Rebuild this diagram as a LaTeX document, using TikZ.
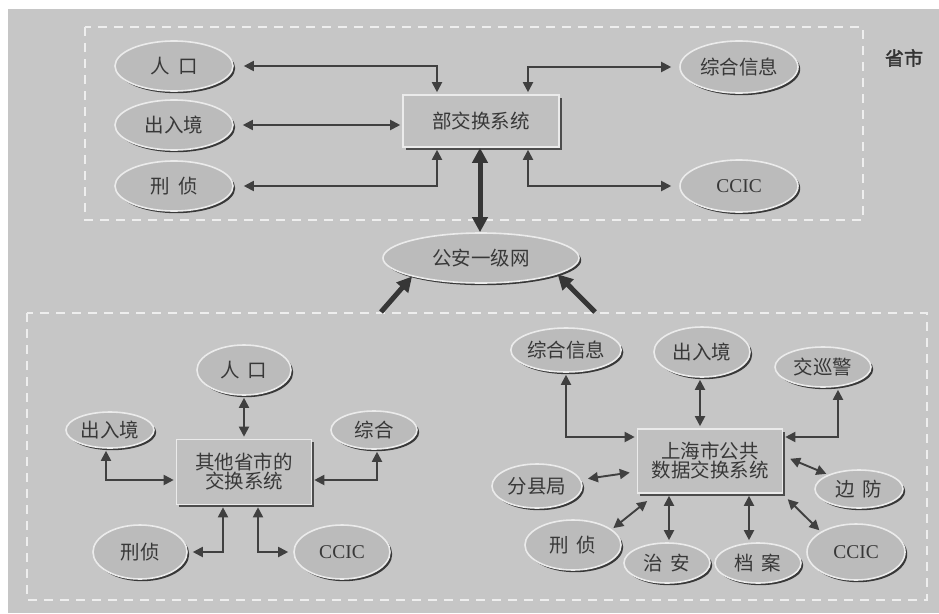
\documentclass[tikz,border=0pt]{standalone}
\usepackage{fontspec}
\setmainfont{Noto Sans CJK SC}
\newfontfamily\cjkb[FakeBold=2]{Noto Sans CJK SC}
\newfontfamily\lat{Liberation Serif}
\usetikzlibrary{shapes.geometric,shadows,arrows.meta}
\definecolor{bgc}{HTML}{C6C6C6}
\definecolor{ellc}{HTML}{BBBBBB}
\definecolor{boxc}{HTML}{C0C0C0}
\definecolor{inkc}{HTML}{383838}
\definecolor{linec}{HTML}{404040}
\definecolor{dashc}{HTML}{EEEEEE}
\tikzset{
  x=1pt,y=-1pt,
  lbl/.style={font=\fontsize{19.5}{22}\selectfont, text=inkc},
  ell/.style={ellipse, lbl, fill=ellc, draw=white!92!black, line width=1.6pt, inner sep=0pt,
    drop shadow={shadow xshift=2.2pt, shadow yshift=-2.2pt, fill=black!78, opacity=1}},
  sbox/.style={rectangle, lbl, fill=boxc, draw=white!92!black, line width=1.6pt, inner sep=2pt, align=center,
    drop shadow={shadow xshift=2.5pt, shadow yshift=-2.5pt, fill=black!70, opacity=1}},
  arr/.style={draw=linec, line width=1.9pt, {Triangle[length=10pt,width=10pt]}-{Triangle[length=10pt,width=10pt]}, shorten >=2pt, shorten <=2pt},
  bigarr/.style={draw=linec!85!black, line width=5pt, -{Triangle[length=15pt,width=15pt]}},
  bigdbl/.style={draw=linec!85!black, line width=5pt, {Triangle[length=15pt,width=15pt]}-{Triangle[length=15pt,width=15pt]}},
  dsh/.style={draw=dashc, line width=1.2pt, dash pattern=on 9pt off 7pt}
}
\begin{document}
\begin{tikzpicture}
\useasboundingbox (0,0) rectangle (939,613);
\fill[white] (0,0) rectangle (939,613);
\fill[bgc] (8,9) rectangle (939,613);
% dashed regions
\draw[dsh] (85,27) rectangle (863,220);
\draw[dsh] (27,313) rectangle (927,600);
\node[lbl, font=\cjkb\fontsize{19}{22}\selectfont, text=black!80] (prov) at (904,58) {省市};

% ---------- top ----------
\node[ell, minimum width=118, minimum height=50] (t1) at (174,66) {人\hspace{.45em}口};
\node[ell, minimum width=118, minimum height=50] (t2) at (174,125) {出入境};
\node[ell, minimum width=118, minimum height=50] (t3) at (174,186) {刑\hspace{.45em}侦};
\node[sbox, minimum width=156, minimum height=52] (bu) at (481,121) {部交换系统};
\node[ell, minimum width=118, minimum height=52] (t4) at (739,67) {综合信息};
\node[ell, minimum width=118, minimum height=52] (t5) at (739,186) {\lat CCIC};

\draw[arr] ([xshift=8]t1.east) -| ([xshift=-44]bu.north);
\draw[arr] ([xshift=7]t2.east) -- (bu.west |- t2.east);
\draw[arr] ([xshift=8]t3.east) -| ([xshift=-44]bu.south);
\draw[arr] ([xshift=47]bu.north) |- ([xshift=-6]t4.west);
\draw[arr] ([xshift=47]bu.south) |- ([xshift=-6]t5.west);

% ---------- center ----------
\node[ell, minimum width=196, minimum height=50] (gn) at (481,258) {公安一级网};
\draw[bigdbl] ([xshift=-1]bu.south) -- ([xshift=-1]gn.north);
\coordinate (la) at (381,312);
\coordinate (ra) at (595,312);
\draw[bigarr] (la) -- (gn.195);
\draw[bigarr] (ra) -- (gn.-12);

% ---------- bottom left ----------
\node[ell, minimum width=94, minimum height=50] (b1) at (244,370) {人\hspace{.4em}口};
\node[ell, minimum width=88, minimum height=36] (b2) at (110,430) {出入境};
\node[ell, minimum width=86, minimum height=38] (b3) at (374,430) {综合};
\node[sbox, minimum width=135, minimum height=65] (bb) at (244,472) {其他省市的\\[-3pt]交换系统};
\node[ell, minimum width=94, minimum height=54] (b4) at (140,552) {刑侦};
\node[ell, minimum width=96, minimum height=54] (b5) at (342,552) {\lat CCIC};

\draw[arr] (b1.south) -- (bb.north);
\draw[arr] ([xshift=-4]b2.south) |- ([yshift=-8]bb.west);
\draw[arr] ([xshift=3]b3.south) |- ([yshift=-8]bb.east);
\draw[arr] ([xshift=-21]bb.south) |- ([xshift=3]b4.east);
\draw[arr] ([xshift=14]bb.south) |- ([xshift=-3]b5.west);

% ---------- bottom right ----------
\node[ell, minimum width=110, minimum height=44] (r1) at (566,350) {综合信息};
\node[ell, minimum width=96, minimum height=50] (r2) at (702,352) {出入境};
\node[ell, minimum width=96, minimum height=40] (r3) at (823,367) {交巡警};
\node[sbox, minimum width=145, minimum height=64] (rb) at (710,461) {上海市公共\\[-3pt]数据交换系统};
\node[ell, minimum width=90, minimum height=44] (r4) at (537,486) {分县局};
\node[ell, minimum width=88, minimum height=38] (r5) at (859,489) {边\hspace{.4em}防};
\node[ell, minimum width=96, minimum height=50] (r6) at (573,545) {刑\hspace{.4em}侦};
\node[ell, minimum width=86, minimum height=40] (r7) at (667,563) {治\hspace{.4em}安};
\node[ell, minimum width=86, minimum height=40] (r8) at (758,563) {档\hspace{.4em}案};
\node[ell, minimum width=98, minimum height=56] (r9) at (856,552) {\lat CCIC};

\draw[arr] (r1.south) |- ([yshift=24]rb.west);
\draw[arr] ([xshift=-2]r2.south) -- ([xshift=-2]r2.south |- rb.north);
\draw[arr] ([xshift=15]r3.south) |- ([yshift=24]rb.east);
\draw[arr, shorten >=7pt, shorten <=7pt] (rb) -- (r4);
\draw[arr] ([xshift=5pt,yshift=3pt]rb.east) -- (r5.155);
\draw[arr] ([xshift=12pt,yshift=-6pt]rb.south west) -- (r6.22);
\draw[arr] ([xshift=2]r7.north) -- ([xshift=2]r7.north |- rb.south);
\draw[arr] ([xshift=-9]r8.north) -- ([xshift=-9]r8.north |- rb.south);
\draw[arr] ([xshift=3pt,yshift=-4pt]rb.south east) -- (r9.150);
\end{tikzpicture}
\end{document}
